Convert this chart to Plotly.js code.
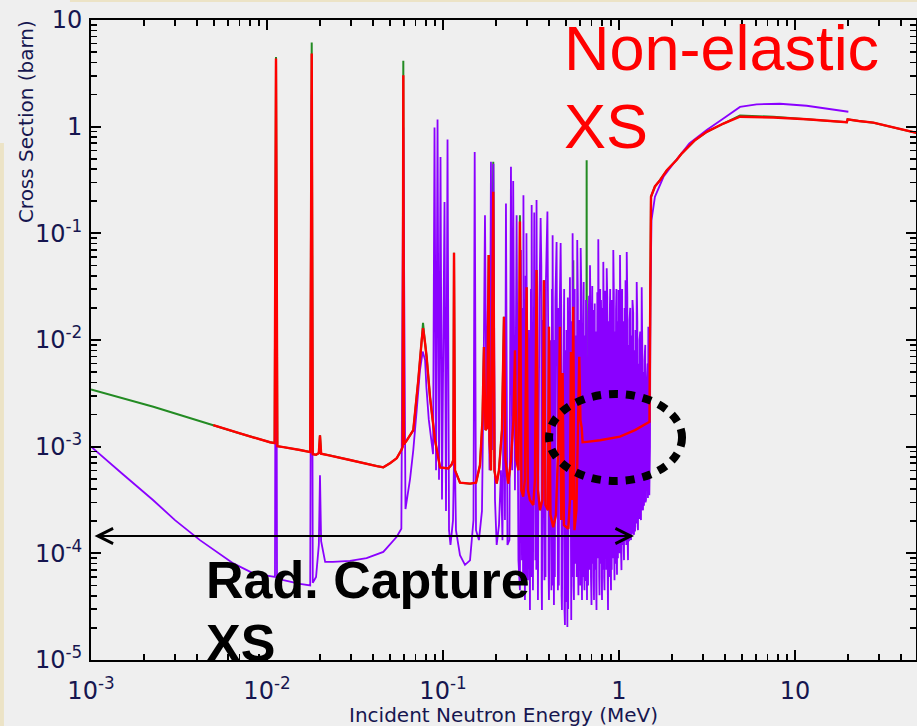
<!DOCTYPE html>
<html>
<head>
<meta charset="utf-8">
<script src="https://cdn.plot.ly/plotly-3.0.1.min.js"></script>
<style>
  html, body { margin: 0; padding: 0; background: #efefef; }
  #chart { width: 917px; height: 726px; }
</style>
</head>
<body>
<div id="chart"></div>
<script>
// Incident neutron energy in MeV, cross sections in barn.

// Total curve below the evaluated non-elastic range
const greenLowE  = [0.001, 0.00226, 0.00495];
const greenLowXS = [3.44e-3, 2.37e-3, 1.59e-3];

// Non-elastic cross section
const nonelE = [
  0.00495, 0.00703, 0.0104, 0.01105, 0.01125, 0.01145, 0.0124, 0.0154, 0.0176, 0.01795,
  0.0182, 0.0190, 0.0197, 0.0200, 0.0203, 0.0225, 0.0296, 0.0420, 0.0458, 0.0500,
  0.0546, 0.0580, 0.0590, 0.0595, 0.0600, 0.0624, 0.0678, 0.0724, 0.0757, 0.0770,
  0.0790, 0.0807, 0.0844, 0.0901, 0.0962, 0.1071, 0.1120, 0.1145, 0.1155, 0.1170,
  0.1249, 0.1424, 0.1540, 0.1622, 0.1676, 0.1709, 0.1743, 0.1780, 0.1818, 0.1837,
  0.1873, 0.1930, 0.1960, 0.2018, 0.2080, 0.2163, 0.2220, 0.2264, 0.2348, 0.2433,
  0.2513, 0.2563, 0.2614, 0.2683, 0.2736, 0.2790, 0.2857, 0.2921, 0.2986, 0.3038,
  0.3119, 0.3258, 0.3330, 0.3400, 0.3463, 0.3554, 0.3670, 0.3745, 0.3820, 0.3947,
  0.4000, 0.4080, 0.4230, 0.4382, 0.4530, 0.4617, 0.4700, 0.4784, 0.4866, 0.5150,
  0.5263, 0.5332, 0.5403, 0.5496, 0.5583, 0.5730, 0.5945, 0.6040, 0.6140, 0.6210,
  0.6550, 0.7800, 1.013, 1.233, 1.490, 1.505, 1.52, 1.60, 1.71, 1.87,
  2.13, 2.27, 2.70, 3.15, 3.92, 4.87, 7.53, 11.65, 19.7, 19.9,
  23.0, 27.9, 49.0
];
const nonelXS = [
  1.59e-3, 1.33e-3, 1.10e-3, 1.08e-3, 4.35, 1.01e-3, 9.9e-4, 9.3e-4, 8.9e-4, 4.85,
  8.5e-4, 8.4e-4, 8.7e-4, 1.28e-3, 8.6e-4, 8.3e-4, 7.5e-4, 6.58e-4, 6.4e-4, 7.0e-4,
  7.8e-4, 9.3e-4, 1.0e-3, 3.04, 1.05e-3, 1.15e-3, 1.43e-3, 4.2e-3, 0.0100, 0.0129,
  0.0095, 6.96e-3, 2.9e-3, 1.15e-3, 6.4e-4, 6.26e-4, 6.8e-4, 7.5e-4, 0.0656, 6.0e-4,
  4.6e-4, 4.5e-4, 4.6e-4, 6.7e-4, 1.77e-3, 8.6e-3, 1.43e-3, 1.5e-3, 0.0625, 1.15e-3,
  6.0e-4, 0.245, 6.0e-4, 4.5e-4, 6.0e-4, 1.43e-3, 0.0165, 7.5e-4, 4.5e-4, 7.5e-4,
  1.77e-3, 8.0e-3, 7.5e-4, 6.0e-4, 0.129, 3.9e-4, 3.4e-4, 4.9e-4, 0.0313, 3.9e-4,
  3.16e-4, 2.84e-4, 4.9e-4, 0.0452, 3.9e-4, 2.54e-4, 3.16e-4, 0.0364, 2.84e-4, 2.54e-4,
  0.0133, 2.3e-4, 1.76e-4, 2.3e-4, 1.15e-3, 0.0133, 2.05e-4, 4.9e-3, 1.84e-4, 1.7e-4,
  3.16e-4, 7.7e-3, 3.16e-4, 0.0205, 1.65e-4, 2.54e-4, 6.96e-3, 1.77e-3, 1.5e-3, 1.10e-3,
  1.11e-3, 1.15e-3, 1.24e-3, 1.43e-3, 1.71e-3, 0.0237, 0.22, 0.275, 0.315, 0.39,
  0.49, 0.56, 0.746, 0.894, 1.07, 1.24, 1.22, 1.175, 1.10, 1.17,
  1.13, 1.09, 0.875
];

// Resonance tips where the total curve stands above the non-elastic one
const greenTipE  = [0.01125, 0.01795, 0.0595, 0.0770, 0.1930, 0.2736, 0.5496, 0.6535, 0.6550, 0.6565, 4.87, 7.53];
const greenTipXS = [4.5, 6.15, 4.14, 0.0145, 0.47, 0.148, 0.056, 1.11e-3, 0.485, 1.11e-3, 1.27, 1.24];

// Radiative capture cross section (resolved resonances and smooth parts)
const captureE = [
  0.001, 0.0015, 0.00225, 0.0030, 0.00416, 0.00644, 0.00836, 0.0104, 0.0111, 0.01125, 0.0114, 0.0124,
  0.0154, 0.0176, 0.01795, 0.0182, 0.0190, 0.0197, 0.0200, 0.0203, 0.0214, 0.0237,
  0.0296, 0.0368, 0.0458, 0.0546, 0.0580, 0.0595, 0.0612, 0.0650, 0.0678, 0.0709,
  0.0740, 0.0767, 0.0791, 0.0805, 0.0830, 0.0878, 0.0895, 0.0913, 0.0931, 0.0949,
  0.0968, 0.0987, 0.1020, 0.1040, 0.1061, 0.1082, 0.1103, 0.1140, 0.1162, 0.1185,
  0.1249, 0.1333, 0.1424, 0.1490, 0.1514, 0.1540, 0.1600, 0.1665, 0.1700, 0.1732,
  0.1766, 0.1800, 0.1837, 0.1873, 0.1898, 0.1935, 0.1974, 0.2018, 0.2080, 0.2135,
  0.2177, 0.2220, 0.2249, 0.2279, 0.2324, 0.2385, 0.2433, 0.2471, 0.2505, 0.2563,
  0.2620, 0.2683, 0.2736, 0.2772, 0.2809, 0.2864, 0.2921, 0.2980, 0.3038, 0.3078,
  0.3119, 0.3190, 0.3244, 0.3300, 0.3350, 0.3400, 0.3463, 0.3530, 0.3587, 0.3649,
  0.3697, 0.3770, 0.3845, 0.3920, 0.4000, 0.4080, 0.4130, 0.4196, 0.4269, 0.4350,
  0.4420, 0.4498, 0.4587, 0.4660, 0.4740, 0.4834, 0.4930, 0.5030, 0.5090, 0.5195,
  0.5263, 0.5354, 0.5450, 0.5546, 0.5656, 0.5791, 0.5880, 0.5960, 0.6058, 0.6163,
  0.6244, 0.6368, 0.6494, 0.6580, 0.6710, 0.6843, 0.6978, 0.7117, 0.7211, 0.7354,
  0.7450, 0.7628, 0.7748, 0.7903, 0.8007, 0.8144, 0.8273, 0.8382, 0.8515, 0.8661,
  0.8832, 0.9007, 0.9126, 0.9282, 0.9430, 0.9616, 0.9743, 0.9936, 1.0133, 1.0330,
  1.0538, 1.0677, 1.0890, 1.1064, 1.1251, 1.1474, 1.1701, 1.1930, 1.2169, 1.2410,
  1.2607, 1.2823, 1.3080, 1.3336, 1.3460, 1.3690, 1.3960, 1.4238, 1.4425, 1.4680,
  1.4870, 1.5000, 1.5100, 1.5300, 1.6000, 1.7900, 2.0400, 2.5100, 3.1500, 3.9200,
  4.8700, 6.0500, 8.2000, 11.650, 20.100
];
const captureXS = [
  1.0e-3, 5.6e-4, 3.16e-4, 2.05e-4, 1.33e-4, 8.05e-5, 6.5e-5, 6.12e-5, 6.0e-5, 2.2, 5.8e-5, 5.6e-5,
  5.16e-5, 5.0e-5, 2.0, 5.3e-5, 6.0e-5, 1.2e-4, 5.4e-4, 1.3e-4, 8.3e-5, 8.3e-5,
  8.5e-5, 9.0e-5, 1.03e-4, 1.43e-4, 1.7e-4, 0.98, 2.6e-4, 5.0e-4, 9.3e-4, 2.2e-3,
  5.2e-3, 7.8e-3, 6.5e-3, 3.6e-3, 1.8e-3, 8.5e-4, 0.98, 6.0e-4, 1.17, 4.9e-4,
  0.52, 3.2e-4, 0.197, 2.5e-4, 0.76, 1.65e-4, 1.2e-4, 2.05e-4, 1.43e-3, 1.65e-4,
  9.6e-5, 7.8e-5, 8.6e-5, 2.05e-4, 0.58, 1.65e-4, 1.33e-4, 2.5e-4, 4.2e-3, 0.148,
  1.77e-3, 0.0237, 6.0e-4, 0.47, 9.3e-4, 0.45, 3.2e-4, 1.2e-4, 1.84e-4, 6.0e-4,
  1.33e-4, 0.0124, 2.05e-4, 0.19, 1.2e-4, 1.33e-4, 0.42, 6.0e-4, 0.31, 3.9e-4,
  0.148, 8.6e-5, 4.5e-5, 0.0696, 8.6e-5, 0.228, 3.65e-5, 0.100, 5.6e-5, 0.0124,
  2.94e-5, 0.184, 4.5e-5, 0.157, 8.6e-5, 0.205, 3.65e-5, 0.0237, 0.139, 2.94e-5,
  0.0154, 5.6e-5, 0.0364, 0.160, 3.65e-5, 9.97e-3, 4.5e-5, 0.096, 3.28e-5, 0.0237,
  0.083, 4.5e-5, 0.0124, 0.081, 2.94e-5, 4.2e-3, 2.13e-5, 0.0124, 2.04e-5, 2.73e-3,
  0.0388, 2.37e-5, 0.100, 3.65e-5, 8.04e-3, 0.0865, 4.05e-5, 0.0154, 0.073, 3.65e-5,
  9.97e-3, 4.5e-5, 0.0237, 3.65e-5, 0.0124, 0.0503, 3.28e-5, 0.0191, 3.65e-5, 8.04e-3,
  2.94e-5, 0.088, 4.05e-5, 0.0237, 3.65e-5, 0.054, 4.5e-5, 0.0154, 0.047, 2.94e-5,
  0.0124, 4.5e-5, 0.0237, 0.0696, 5.6e-5, 0.0191, 6.3e-5, 0.0294, 0.0625, 6.96e-5,
  0.0124, 8.64e-5, 0.0364, 0.067, 8.64e-5, 0.0154, 1.33e-4, 0.0237, 1.49e-4, 0.0124,
  0.0349, 1.65e-4, 9.97e-3, 2.05e-4, 0.0313, 2.54e-4, 6.48e-3, 3.16e-4, 4.2e-3, 0.0133,
  3.5e-4, 1.0e-3, 0.03, 0.133, 0.22, 0.339, 0.452, 0.697, 0.93, 1.19,
  1.53, 1.62, 1.64, 1.57, 1.38
];

// Further unresolved capture resonances in the 0.28 - 1.5 MeV band
const captureBandE = [
  0.2840, 0.2850, 0.2950, 0.2965, 0.3160, 0.3175, 0.3380, 0.3390, 0.3620, 0.3635,
  0.3810, 0.3825, 0.3960, 0.3980, 0.4160, 0.4175, 0.4300, 0.4320, 0.4530, 0.4550,
  0.4700, 0.4720, 0.4880, 0.4900, 0.4980, 0.5000, 0.5120, 0.5140,
  0.5400, 0.5420, 0.5500, 0.5520, 0.5600, 0.5620, 0.5720, 0.5750, 0.5840, 0.5860,
  0.6010, 0.6030, 0.6110, 0.6130, 0.6200, 0.6220, 0.6300, 0.6330, 0.6430, 0.6460,
  0.6540, 0.6560, 0.6640, 0.6670, 0.6760, 0.6790, 0.6900, 0.6930, 0.7050, 0.7080,
  0.7160, 0.7180, 0.7280, 0.7310, 0.7400, 0.7420, 0.7530, 0.7560, 0.7690, 0.7720,
  0.7820, 0.7850, 0.7950, 0.7980, 0.8070, 0.8100, 0.8200, 0.8230, 0.8320, 0.8350,
  0.8450, 0.8480, 0.8580, 0.8610, 0.8730, 0.8770, 0.8910, 0.8950, 0.9060, 0.9090,
  0.9190, 0.9230, 0.9350, 0.9390, 0.9510, 0.9550, 0.9670, 0.9700, 0.9820, 0.9860,
  1.0020, 1.0060, 1.0220, 1.0260, 1.0420, 1.0460, 1.0600, 1.0640, 1.0760, 1.0800,
  1.0960, 1.1000, 1.1150, 1.1190, 1.1360, 1.1400, 1.1580, 1.1620, 1.1800, 1.1850,
  1.2040, 1.2090, 1.2290, 1.2340, 1.2500, 1.2540, 1.2710, 1.2760, 1.2950, 1.3000,
  1.3200, 1.3250, 1.3570, 1.3620, 1.3820, 1.3870, 1.4100, 1.4150, 1.4550, 1.4600
];
const captureBandXS = [
  0.0200, 6.0e-5, 0.0400, 5.0e-5, 0.0300, 6.0e-5, 0.0150, 7.0e-5, 0.0500, 5.0e-5,
  0.0250, 6.0e-5, 0.0120, 7.0e-5, 0.0300, 5.0e-5, 0.0100, 6.0e-5, 0.0200, 5.0e-5,
  0.0150, 4.0e-5, 0.0300, 3.0e-5, 0.0080, 3.5e-5, 0.0250, 3.0e-5,
  0.0150, 6.0e-5, 0.0060, 5.0e-5, 0.0300, 8.0e-5, 0.0110, 6.0e-5, 0.0240, 7.0e-5,
  0.0090, 5.0e-5, 0.0280, 9.0e-5, 0.0060, 6.0e-5, 0.0350, 7.0e-5, 0.0110, 5.5e-5,
  0.0180, 8.0e-5, 0.0070, 5.0e-5, 0.0260, 7.0e-5, 0.0140, 6.0e-5, 0.0320, 8.0e-5,
  0.0080, 6.0e-5, 0.0220, 7.0e-5, 0.0120, 5.0e-5, 0.0280, 9.0e-5, 0.0100, 6.0e-5,
  0.0300, 8.0e-5, 0.0090, 6.0e-5, 0.0200, 7.0e-5, 0.0130, 6.0e-5, 0.0290, 9.0e-5,
  0.0110, 7.0e-5, 0.0250, 8.0e-5, 0.0150, 6.0e-5, 0.0300, 9.0e-5, 0.0100, 7.0e-5,
  0.0200, 9.0e-5, 0.0280, 1.0e-4, 0.0120, 8.0e-5, 0.0300, 1.1e-4, 0.0150, 9.0e-5,
  0.0220, 1.0e-4, 0.0120, 1.1e-4, 0.0300, 1.2e-4, 0.0150, 1.1e-4, 0.0200, 1.3e-4,
  0.0110, 1.2e-4, 0.0250, 1.4e-4, 0.0090, 1.3e-4, 0.0200, 1.6e-4, 0.0110, 1.5e-4,
  0.0180, 1.7e-4, 0.0080, 1.6e-4, 0.0100, 1.9e-4, 0.0150, 1.8e-4, 0.0060, 2.1e-4,
  0.0120, 2.2e-4, 0.0080, 2.6e-4, 0.0050, 2.8e-4, 0.0090, 3.0e-4, 0.0060, 3.3e-4
];

const xTickVals = [0.001, 0.01, 0.1, 1, 10];
const xTickText = ['10<sup>-3</sup>', '10<sup>-2</sup>', '10<sup>-1</sup>', '1', '10'];
const xMinorVals = [
  0.002, 0.003, 0.004, 0.005, 0.006, 0.007, 0.008, 0.009,
  0.02, 0.03, 0.04, 0.05, 0.06, 0.07, 0.08, 0.09,
  0.2, 0.3, 0.4, 0.5, 0.6, 0.7, 0.8, 0.9,
  2, 3, 4, 5, 6, 7, 8, 9,
  20, 30, 40
];
const yTickVals = [1e-5, 1e-4, 1e-3, 1e-2, 1e-1, 1, 10];
const yTickText = ['10<sup>-5</sup>', '10<sup>-4</sup>', '10<sup>-3</sup>', '10<sup>-2</sup>', '10<sup>-1</sup>', '1', '10'];
const yMinorVals = [
  2e-5, 3e-5, 4e-5, 5e-5, 6e-5, 7e-5, 8e-5, 9e-5,
  2e-4, 3e-4, 4e-4, 5e-4, 6e-4, 7e-4, 8e-4, 9e-4,
  2e-3, 3e-3, 4e-3, 5e-3, 6e-3, 7e-3, 8e-3, 9e-3,
  0.02, 0.03, 0.04, 0.05, 0.06, 0.07, 0.08, 0.09,
  0.2, 0.3, 0.4, 0.5, 0.6, 0.7, 0.8, 0.9,
  2, 3, 4, 5, 6, 7, 8, 9
];

// Merge two point lists by energy; later entries win on equal energy
function mergeByEnergy(baseE, baseXS, addE, addXS) {
  const m = new Map();
  baseE.forEach((e, i) => m.set(e, baseXS[i]));
  addE.forEach((e, i) => m.set(e, addXS[i]));
  const es = Array.from(m.keys()).sort((a, b) => a - b);
  return { x: es, y: es.map(e => m.get(e)) };
}
const totalHigh = mergeByEnergy(nonelE, nonelXS, greenTipE, greenTipXS);
const totalE = greenLowE.slice(0, -1).concat(totalHigh.x);
const totalXS = greenLowXS.slice(0, -1).concat(totalHigh.y);
const capture = mergeByEnergy(captureE, captureXS, captureBandE, captureBandXS);

const navy = '#16164f';

const traces = [
  { x: totalE, y: totalXS, type: 'scatter', mode: 'lines',
    line: { color: '#238b23', width: 2, simplify: false }, hoverinfo: 'skip' },
  { x: capture.x, y: capture.y, type: 'scatter', mode: 'lines',
    line: { color: '#8a00ff', width: 1.8, simplify: false }, hoverinfo: 'skip' },
  { x: nonelE, y: nonelXS, type: 'scatter', mode: 'lines',
    line: { color: '#ff0000', width: 2.4, simplify: false }, hoverinfo: 'skip' }
];

// Boxed log axes with inward major and minor ticks on all four sides
const baseAxis = {
  type: 'log', tickmode: 'array',
  ticks: 'inside', ticklen: 10, tickwidth: 2, tickcolor: 'black',
  showline: true, linecolor: 'black', linewidth: 2, mirror: 'allticks',
  showgrid: false, zeroline: false,
  tickfont: { family: 'DejaVu Sans, sans-serif', size: 24, color: navy }
};
const minorTicks = { tickmode: 'array', ticks: 'inside', ticklen: 6, tickwidth: 1.5, tickcolor: 'black', showgrid: false };

const layout = {
  width: 917, height: 726,
  margin: { l: 91, r: 1, t: 20, b: 66 },   // plot box: x 91..916 px, y 20..660 px
  paper_bgcolor: '#efefef', plot_bgcolor: '#efefef',
  showlegend: false,
  xaxis: Object.assign({}, baseAxis, {
    range: [-3, 1.6875], tickvals: xTickVals, ticktext: xTickText, ticklabelstandoff: 8,
    minor: Object.assign({}, minorTicks, { tickvals: xMinorVals })
  }),
  yaxis: Object.assign({}, baseAxis, {
    range: [-5, 1], tickvals: yTickVals, ticktext: yTickText, ticklabelstandoff: 2,
    minor: Object.assign({}, minorTicks, { tickvals: yMinorVals })
  }),
  shapes: [
    { type: 'rect', xref: 'paper', yref: 'paper', x0: -0.1103, x1: -0.1055, y0: -0.11, y1: 0.808,
      fillcolor: '#ece3c6', line: { width: 0 } },
    { type: 'rect', xref: 'paper', yref: 'paper', x0: -0.0255, x1: 1.01, y0: 1.0281, y1: 1.04,
      fillcolor: '#ece3c6', line: { width: 0 } },
    { type: 'circle', xref: 'paper', yref: 'paper', x0: 0.5552, x1: 0.7164, y0: 0.2797, y1: 0.4156,
      line: { color: 'black', width: 8, dash: '9px,8px' } }
  ],
  annotations: [
    { text: 'Cross Section (barn)', xref: 'paper', yref: 'paper', x: -0.0788, y: 0.842,
      textangle: -90, showarrow: false, xanchor: 'center', yanchor: 'middle',
      font: { family: 'DejaVu Sans, sans-serif', size: 20, color: navy } },
    { text: 'Incident Neutron Energy (MeV)', xref: 'paper', yref: 'paper', x: 0.5, y: -0.0855,
      showarrow: false, xanchor: 'center', yanchor: 'middle',
      font: { family: 'DejaVu Sans, sans-serif', size: 20, color: navy } },
    { text: 'Non-elastic', xref: 'paper', yref: 'paper', x: 0.5715, y: 0.9558,
      showarrow: false, xanchor: 'left', yanchor: 'middle',
      font: { family: 'Liberation Sans, Arial, sans-serif', size: 63, color: '#ff0000' } },
    { text: 'XS', xref: 'paper', yref: 'paper', x: 0.5715, y: 0.8339,
      showarrow: false, xanchor: 'left', yanchor: 'middle',
      font: { family: 'Liberation Sans, Arial, sans-serif', size: 63, color: '#ff0000' } },
    { text: '<b>Rad. Capture</b>', xref: 'paper', yref: 'paper', x: 0.1365, y: 0.1248,
      showarrow: false, xanchor: 'left', yanchor: 'middle',
      font: { family: 'Liberation Sans, Arial, sans-serif', size: 52, color: 'black' } },
    { text: '<b>XS</b>', xref: 'paper', yref: 'paper', x: 0.1365, y: 0.0258,
      showarrow: false, xanchor: 'left', yanchor: 'middle',
      font: { family: 'Liberation Sans, Arial, sans-serif', size: 52, color: 'black' } },
    { text: '', xref: 'paper', yref: 'paper', x: 0.6582, y: 0.19375,
      ax: -541, ay: 0, showarrow: true, arrowside: 'end+start',
      arrowhead: 5, startarrowhead: 5, arrowsize: 1.5, startarrowsize: 1.5,
      arrowwidth: 2, arrowcolor: 'black', standoff: 0, startstandoff: 0 }
  ]
};

Plotly.newPlot('chart', traces, layout, { staticPlot: true, displayModeBar: false });
</script>
</body>
</html>
